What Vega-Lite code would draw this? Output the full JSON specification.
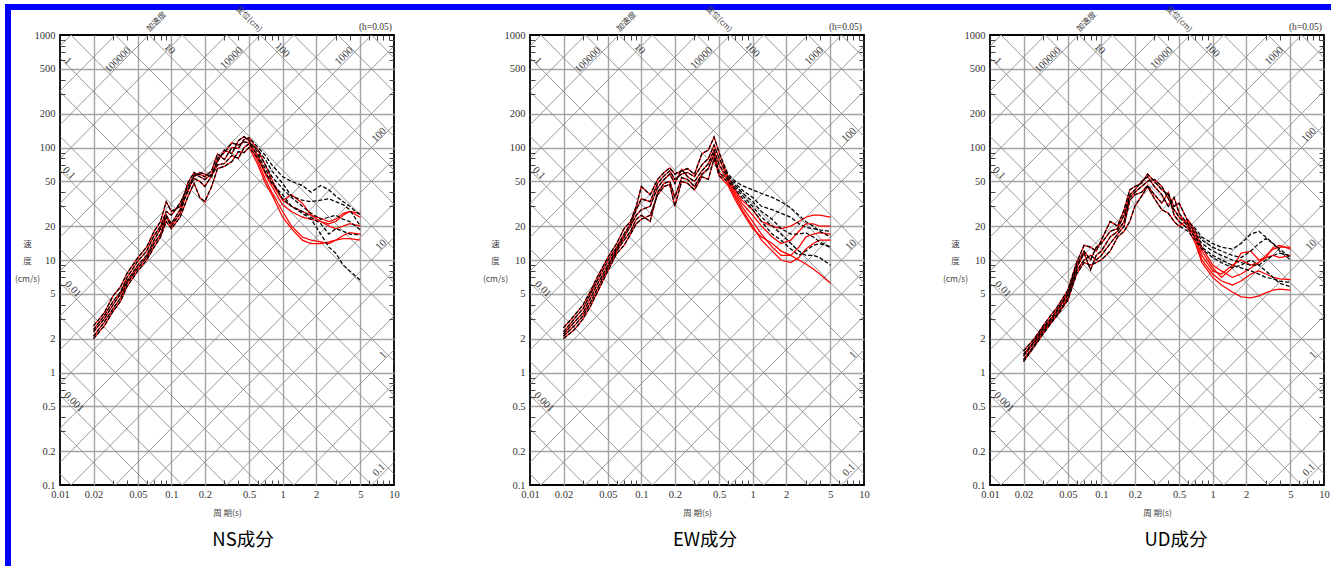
{
"$schema":"https://vega.github.io/schema/vega-lite/v6.json",
"background":"white",
"padding":{"left":5,"top":4,"right":5,"bottom":0},
"bounds":"flush",
"spacing":0,
"config":{"view":{"stroke":"#000000","strokeWidth":1.8}},
"datasets":{
"diag":[
{"id":"d0.0002","T":0.01,"v":0.12566},{"id":"d0.0002","T":10,"v":0.00012566},
{"id":"d0.0005","T":0.01,"v":0.31416},{"id":"d0.0005","T":10,"v":0.00031416},
{"id":"d0.001","T":0.01,"v":0.62832},{"id":"d0.001","T":10,"v":0.00062832},
{"id":"d0.002","T":0.01,"v":1.2566},{"id":"d0.002","T":10,"v":0.0012566},
{"id":"d0.005","T":0.01,"v":3.1416},{"id":"d0.005","T":10,"v":0.0031416},
{"id":"d0.01","T":0.01,"v":6.2832},{"id":"d0.01","T":10,"v":0.0062832},
{"id":"d0.02","T":0.01,"v":12.566},{"id":"d0.02","T":10,"v":0.012566},
{"id":"d0.05","T":0.01,"v":31.416},{"id":"d0.05","T":10,"v":0.031416},
{"id":"d0.1","T":0.01,"v":62.832},{"id":"d0.1","T":10,"v":0.062832},
{"id":"d0.2","T":0.01,"v":125.66},{"id":"d0.2","T":10,"v":0.12566},
{"id":"d0.5","T":0.01,"v":314.16},{"id":"d0.5","T":10,"v":0.31416},
{"id":"d1","T":0.01,"v":628.32},{"id":"d1","T":10,"v":0.62832},
{"id":"d2","T":0.01,"v":1256.6},{"id":"d2","T":10,"v":1.2566},
{"id":"d5","T":0.01,"v":3141.6},{"id":"d5","T":10,"v":3.1416},
{"id":"d10","T":0.01,"v":6283.2},{"id":"d10","T":10,"v":6.2832},
{"id":"d20","T":0.01,"v":12566},{"id":"d20","T":10,"v":12.566},
{"id":"d50","T":0.01,"v":31416},{"id":"d50","T":10,"v":31.416},
{"id":"d100","T":0.01,"v":62832},{"id":"d100","T":10,"v":62.832},
{"id":"d200","T":0.01,"v":125664},{"id":"d200","T":10,"v":125.66},
{"id":"d500","T":0.01,"v":314159},{"id":"d500","T":10,"v":314.16},
{"id":"d1000","T":0.01,"v":628318},{"id":"d1000","T":10,"v":628.32},
{"id":"a0.1","T":0.01,"v":0.00015915},{"id":"a0.1","T":10,"v":0.15915},
{"id":"a0.2","T":0.01,"v":0.0003183},{"id":"a0.2","T":10,"v":0.3183},
{"id":"a0.5","T":0.01,"v":0.00079577},{"id":"a0.5","T":10,"v":0.79577},
{"id":"a1","T":0.01,"v":0.0015915},{"id":"a1","T":10,"v":1.5915},
{"id":"a2","T":0.01,"v":0.003183},{"id":"a2","T":10,"v":3.1831},
{"id":"a5","T":0.01,"v":0.0079577},{"id":"a5","T":10,"v":7.9577},
{"id":"a10","T":0.01,"v":0.015915},{"id":"a10","T":10,"v":15.915},
{"id":"a20","T":0.01,"v":0.031831},{"id":"a20","T":10,"v":31.831},
{"id":"a50","T":0.01,"v":0.079577},{"id":"a50","T":10,"v":79.577},
{"id":"a100","T":0.01,"v":0.15915},{"id":"a100","T":10,"v":159.15},
{"id":"a200","T":0.01,"v":0.31831},{"id":"a200","T":10,"v":318.31},
{"id":"a500","T":0.01,"v":0.79577},{"id":"a500","T":10,"v":795.77},
{"id":"a1000","T":0.01,"v":1.5915},{"id":"a1000","T":10,"v":1591.5},
{"id":"a2000","T":0.01,"v":3.1831},{"id":"a2000","T":10,"v":3183.1},
{"id":"a5000","T":0.01,"v":7.9577},{"id":"a5000","T":10,"v":7957.7},
{"id":"a10000","T":0.01,"v":15.915},{"id":"a10000","T":10,"v":15915},
{"id":"a20000","T":0.01,"v":31.831},{"id":"a20000","T":10,"v":31831},
{"id":"a50000","T":0.01,"v":79.577},{"id":"a50000","T":10,"v":79577},
{"id":"a100000","T":0.01,"v":159.15},{"id":"a100000","T":10,"v":159155},
{"id":"a200000","T":0.01,"v":318.31},{"id":"a200000","T":10,"v":318310},
{"id":"a500000","T":0.01,"v":795.77},{"id":"a500000","T":10,"v":795775}
],
"dlab":[
{"T":0.01179,"v":587,"t":"1"},{"T":0.01205,"v":59.3,"t":"0.1"},{"T":0.01307,"v":5.52,"t":"0.01"},{"T":0.01335,"v":0.547,"t":"0.001"},{"T":0.0966,"v":751,"t":"10"},{"T":0.993,"v":735,"t":"100"}
],
"alab":[
{"T":0.0331,"v":599,"t":"100000"},{"T":0.347,"v":624,"t":"10000"},{"T":3.566,"v":651,"t":"1000"},{"T":7.34,"v":129,"t":"100"},{"T":7.65,"v":13.6,"t":"10"},{"T":7.97,"v":1.43,"t":"1"},{"T":7.34,"v":0.136,"t":"0.1"}
],
"hlab":[{"T":10,"v":1000,"t":"(h=0.05)"}],
"tacc":[{"T":0.0739,"v":1305,"t":"加速度"}],
"tdis":[{"T":0.631,"v":1085,"t":"変位(cm)"}],
"ns":[
{"s":1,"T":0.02,"r":2.6,"k":2.6},{"s":1,"T":0.025,"r":3.4,"k":3.4},{"s":1,"T":0.03,"r":4.8,"k":4.8},{"s":1,"T":0.035,"r":5.8,"k":5.8},{"s":1,"T":0.04,"r":7.6,"k":7.6},{"s":1,"T":0.05,"r":10.5,"k":10.5},{"s":1,"T":0.06,"r":13,"k":13},{"s":1,"T":0.07,"r":18,"k":18},{"s":1,"T":0.08,"r":22,"k":22},{"s":1,"T":0.09,"r":33,"k":33},{"s":1,"T":0.1,"r":27,"k":27},{"s":1,"T":0.12,"r":30,"k":30},{"s":1,"T":0.14,"r":40,"k":40},{"s":1,"T":0.16,"r":57,"k":57},{"s":1,"T":0.18,"r":58,"k":58},{"s":1,"T":0.2,"r":55,"k":55},{"s":1,"T":0.23,"r":62,"k":62},{"s":1,"T":0.26,"r":88,"k":88},{"s":1,"T":0.3,"r":78,"k":78},{"s":1,"T":0.35,"r":100,"k":100},{"s":1,"T":0.4,"r":98,"k":98},{"s":1,"T":0.45,"r":118,"k":118},{"s":1,"T":0.5,"r":122,"k":122},
{"s":1,"T":0.6,"r":95,"k":100},{"s":1,"T":0.7,"r":70,"k":85},{"s":1,"T":0.8,"r":52,"k":70},{"s":1,"T":1,"r":34,"k":55},{"s":1,"T":1.2,"r":38,"k":50},{"s":1,"T":1.5,"r":32,"k":46},{"s":1,"T":1.8,"r":25,"k":40},{"s":1,"T":2.2,"r":22,"k":46},{"s":1,"T":2.6,"r":21,"k":42},{"s":1,"T":3,"r":22,"k":37},{"s":1,"T":3.5,"r":25,"k":33},{"s":1,"T":4,"r":27,"k":30},{"s":1,"T":5,"r":26,"k":25},
{"s":2,"T":0.02,"r":2.4,"k":2.4},{"s":2,"T":0.025,"r":3.2,"k":3.2},{"s":2,"T":0.03,"r":4.3,"k":4.3},{"s":2,"T":0.035,"r":5.2,"k":5.2},{"s":2,"T":0.04,"r":7.0,"k":7.0},{"s":2,"T":0.05,"r":9.8,"k":9.8},{"s":2,"T":0.06,"r":12,"k":12},{"s":2,"T":0.07,"r":16.5,"k":16.5},{"s":2,"T":0.08,"r":20,"k":20},{"s":2,"T":0.09,"r":27,"k":27},{"s":2,"T":0.1,"r":25,"k":25},{"s":2,"T":0.12,"r":32,"k":32},{"s":2,"T":0.14,"r":45,"k":45},{"s":2,"T":0.16,"r":55,"k":55},{"s":2,"T":0.18,"r":60,"k":60},{"s":2,"T":0.2,"r":58,"k":58},{"s":2,"T":0.23,"r":55,"k":55},{"s":2,"T":0.26,"r":80,"k":80},{"s":2,"T":0.3,"r":90,"k":90},{"s":2,"T":0.35,"r":110,"k":110},{"s":2,"T":0.4,"r":105,"k":105},{"s":2,"T":0.45,"r":112,"k":112},{"s":2,"T":0.5,"r":110,"k":110},
{"s":2,"T":0.6,"r":85,"k":95},{"s":2,"T":0.7,"r":60,"k":78},{"s":2,"T":0.8,"r":48,"k":62},{"s":2,"T":1,"r":34,"k":48},{"s":2,"T":1.2,"r":30,"k":37},{"s":2,"T":1.5,"r":27,"k":34},{"s":2,"T":1.8,"r":25,"k":33},{"s":2,"T":2.2,"r":23.5,"k":34},{"s":2,"T":2.6,"r":22,"k":35},{"s":2,"T":3,"r":23,"k":33},{"s":2,"T":3.5,"r":26,"k":31},{"s":2,"T":4,"r":27,"k":28},{"s":2,"T":5,"r":24,"k":20},
{"s":3,"T":0.02,"r":2.3,"k":2.3},{"s":3,"T":0.025,"r":3.0,"k":3.0},{"s":3,"T":0.03,"r":4.0,"k":4.0},{"s":3,"T":0.035,"r":5.0,"k":5.0},{"s":3,"T":0.04,"r":6.5,"k":6.5},{"s":3,"T":0.05,"r":9.0,"k":9.0},{"s":3,"T":0.06,"r":11,"k":11},{"s":3,"T":0.07,"r":15,"k":15},{"s":3,"T":0.08,"r":19,"k":19},{"s":3,"T":0.09,"r":25,"k":25},{"s":3,"T":0.1,"r":21,"k":21},{"s":3,"T":0.12,"r":28,"k":28},{"s":3,"T":0.14,"r":48,"k":48},{"s":3,"T":0.16,"r":60,"k":60},{"s":3,"T":0.18,"r":55,"k":55},{"s":3,"T":0.2,"r":52,"k":52},{"s":3,"T":0.23,"r":58,"k":58},{"s":3,"T":0.26,"r":75,"k":75},{"s":3,"T":0.3,"r":95,"k":95},{"s":3,"T":0.35,"r":88,"k":88},{"s":3,"T":0.4,"r":115,"k":115},{"s":3,"T":0.45,"r":125,"k":125},{"s":3,"T":0.5,"r":115,"k":115},
{"s":3,"T":0.6,"r":80,"k":90},{"s":3,"T":0.7,"r":58,"k":70},{"s":3,"T":0.8,"r":45,"k":55},{"s":3,"T":1,"r":31,"k":43},{"s":3,"T":1.2,"r":27,"k":36},{"s":3,"T":1.5,"r":24,"k":30},{"s":3,"T":1.8,"r":23,"k":26},{"s":3,"T":2.2,"r":22,"k":23},{"s":3,"T":2.6,"r":20,"k":24},{"s":3,"T":3,"r":19,"k":25},{"s":3,"T":3.5,"r":20,"k":23},{"s":3,"T":4,"r":21,"k":22},{"s":3,"T":5,"r":20,"k":18.5},
{"s":4,"T":0.02,"r":2.1,"k":2.1},{"s":4,"T":0.025,"r":2.8,"k":2.8},{"s":4,"T":0.03,"r":3.7,"k":3.7},{"s":4,"T":0.035,"r":4.6,"k":4.6},{"s":4,"T":0.04,"r":6.2,"k":6.2},{"s":4,"T":0.05,"r":8.5,"k":8.5},{"s":4,"T":0.06,"r":10.5,"k":10.5},{"s":4,"T":0.07,"r":14,"k":14},{"s":4,"T":0.08,"r":17,"k":17},{"s":4,"T":0.09,"r":24,"k":24},{"s":4,"T":0.1,"r":20,"k":20},{"s":4,"T":0.12,"r":26,"k":26},{"s":4,"T":0.14,"r":42,"k":42},{"s":4,"T":0.16,"r":53,"k":53},{"s":4,"T":0.18,"r":50,"k":50},{"s":4,"T":0.2,"r":45,"k":45},{"s":4,"T":0.23,"r":56,"k":56},{"s":4,"T":0.26,"r":70,"k":70},{"s":4,"T":0.3,"r":72,"k":72},{"s":4,"T":0.35,"r":85,"k":85},{"s":4,"T":0.4,"r":80,"k":80},{"s":4,"T":0.45,"r":100,"k":100},{"s":4,"T":0.5,"r":108,"k":108},
{"s":4,"T":0.6,"r":75,"k":85},{"s":4,"T":0.7,"r":52,"k":65},{"s":4,"T":0.8,"r":40,"k":50},{"s":4,"T":1,"r":27,"k":35},{"s":4,"T":1.2,"r":20,"k":30},{"s":4,"T":1.5,"r":16,"k":27},{"s":4,"T":1.8,"r":15,"k":24},{"s":4,"T":2.2,"r":14.5,"k":21},{"s":4,"T":2.6,"r":14,"k":17},{"s":4,"T":3,"r":15,"k":19},{"s":4,"T":3.5,"r":16.5,"k":18},{"s":4,"T":4,"r":17.5,"k":17},{"s":4,"T":5,"r":17,"k":16.7},
{"s":5,"T":0.02,"r":2.0,"k":2.0},{"s":5,"T":0.025,"r":2.6,"k":2.6},{"s":5,"T":0.03,"r":3.5,"k":3.5},{"s":5,"T":0.035,"r":4.3,"k":4.3},{"s":5,"T":0.04,"r":5.8,"k":5.8},{"s":5,"T":0.05,"r":8.0,"k":8.0},{"s":5,"T":0.06,"r":10,"k":10},{"s":5,"T":0.07,"r":13,"k":13},{"s":5,"T":0.08,"r":16,"k":16},{"s":5,"T":0.09,"r":22,"k":22},{"s":5,"T":0.1,"r":19,"k":19},{"s":5,"T":0.12,"r":24,"k":24},{"s":5,"T":0.14,"r":36,"k":36},{"s":5,"T":0.16,"r":48,"k":48},{"s":5,"T":0.18,"r":36,"k":36},{"s":5,"T":0.2,"r":33,"k":33},{"s":5,"T":0.23,"r":45,"k":45},{"s":5,"T":0.26,"r":65,"k":65},{"s":5,"T":0.3,"r":68,"k":68},{"s":5,"T":0.35,"r":75,"k":75},{"s":5,"T":0.4,"r":92,"k":92},{"s":5,"T":0.45,"r":90,"k":90},{"s":5,"T":0.5,"r":100,"k":100},
{"s":5,"T":0.6,"r":70,"k":80},{"s":5,"T":0.7,"r":48,"k":60},{"s":5,"T":0.8,"r":38,"k":48},{"s":5,"T":1,"r":24,"k":38},{"s":5,"T":1.2,"r":19,"k":30},{"s":5,"T":1.5,"r":15,"k":26},{"s":5,"T":1.8,"r":14,"k":23},{"s":5,"T":2.2,"r":14,"k":17},{"s":5,"T":2.6,"r":14.5,"k":13},{"s":5,"T":3,"r":15,"k":11.5},{"s":5,"T":3.5,"r":15.5,"k":9},{"s":5,"T":4,"r":15.5,"k":8},{"s":5,"T":5,"r":15,"k":6.6}
],
"ew":[
{"s":1,"T":0.02,"r":2.5,"k":2.5},{"s":1,"T":0.025,"r":3.2,"k":3.2},{"s":1,"T":0.03,"r":4.0,"k":4.0},{"s":1,"T":0.035,"r":5.3,"k":5.3},{"s":1,"T":0.04,"r":7.0,"k":7.0},{"s":1,"T":0.05,"r":10.5,"k":10.5},{"s":1,"T":0.06,"r":14,"k":14},{"s":1,"T":0.07,"r":19,"k":19},{"s":1,"T":0.08,"r":22,"k":22},{"s":1,"T":0.09,"r":30,"k":30},{"s":1,"T":0.1,"r":45,"k":45},{"s":1,"T":0.12,"r":38,"k":38},{"s":1,"T":0.14,"r":52,"k":52},{"s":1,"T":0.16,"r":60,"k":60},{"s":1,"T":0.18,"r":66,"k":66},{"s":1,"T":0.2,"r":58,"k":58},{"s":1,"T":0.23,"r":62,"k":62},{"s":1,"T":0.26,"r":65,"k":65},{"s":1,"T":0.3,"r":58,"k":58},{"s":1,"T":0.35,"r":88,"k":88},{"s":1,"T":0.4,"r":95,"k":95},{"s":1,"T":0.45,"r":124,"k":124},{"s":1,"T":0.5,"r":90,"k":90},
{"s":1,"T":0.6,"r":55,"k":58},{"s":1,"T":0.7,"r":42,"k":50},{"s":1,"T":0.8,"r":34,"k":46},{"s":1,"T":1,"r":28,"k":42},{"s":1,"T":1.2,"r":22,"k":39},{"s":1,"T":1.5,"r":20,"k":36},{"s":1,"T":1.8,"r":19,"k":33},{"s":1,"T":2.2,"r":20,"k":29},{"s":1,"T":2.6,"r":22,"k":25},{"s":1,"T":3,"r":24,"k":22},{"s":1,"T":3.5,"r":25,"k":20},{"s":1,"T":4,"r":25,"k":18},{"s":1,"T":5,"r":24,"k":16},
{"s":2,"T":0.02,"r":2.3,"k":2.3},{"s":2,"T":0.025,"r":3.0,"k":3.0},{"s":2,"T":0.03,"r":3.7,"k":3.7},{"s":2,"T":0.035,"r":5.0,"k":5.0},{"s":2,"T":0.04,"r":6.5,"k":6.5},{"s":2,"T":0.05,"r":9.8,"k":9.8},{"s":2,"T":0.06,"r":13,"k":13},{"s":2,"T":0.07,"r":17,"k":17},{"s":2,"T":0.08,"r":21,"k":21},{"s":2,"T":0.09,"r":28,"k":28},{"s":2,"T":0.1,"r":35,"k":35},{"s":2,"T":0.12,"r":33,"k":33},{"s":2,"T":0.14,"r":48,"k":48},{"s":2,"T":0.16,"r":56,"k":56},{"s":2,"T":0.18,"r":62,"k":62},{"s":2,"T":0.2,"r":52,"k":52},{"s":2,"T":0.23,"r":58,"k":58},{"s":2,"T":0.26,"r":60,"k":60},{"s":2,"T":0.3,"r":55,"k":55},{"s":2,"T":0.35,"r":70,"k":70},{"s":2,"T":0.4,"r":80,"k":80},{"s":2,"T":0.45,"r":105,"k":105},{"s":2,"T":0.5,"r":80,"k":80},
{"s":2,"T":0.6,"r":52,"k":56},{"s":2,"T":0.7,"r":40,"k":48},{"s":2,"T":0.8,"r":32,"k":42},{"s":2,"T":1,"r":25,"k":36},{"s":2,"T":1.2,"r":20,"k":30},{"s":2,"T":1.5,"r":16,"k":28},{"s":2,"T":1.8,"r":14,"k":26},{"s":2,"T":2.2,"r":15,"k":24},{"s":2,"T":2.6,"r":18,"k":21},{"s":2,"T":3,"r":21,"k":19.5},{"s":2,"T":3.5,"r":21,"k":19},{"s":2,"T":4,"r":20,"k":18.5},{"s":2,"T":5,"r":20,"k":18},
{"s":3,"T":0.02,"r":2.2,"k":2.2},{"s":3,"T":0.025,"r":2.8,"k":2.8},{"s":3,"T":0.03,"r":3.4,"k":3.4},{"s":3,"T":0.035,"r":4.6,"k":4.6},{"s":3,"T":0.04,"r":6.0,"k":6.0},{"s":3,"T":0.05,"r":9.0,"k":9.0},{"s":3,"T":0.06,"r":12.5,"k":12.5},{"s":3,"T":0.07,"r":16,"k":16},{"s":3,"T":0.08,"r":20,"k":20},{"s":3,"T":0.09,"r":25,"k":25},{"s":3,"T":0.1,"r":28,"k":28},{"s":3,"T":0.12,"r":30,"k":30},{"s":3,"T":0.14,"r":44,"k":44},{"s":3,"T":0.16,"r":52,"k":52},{"s":3,"T":0.18,"r":58,"k":58},{"s":3,"T":0.2,"r":48,"k":48},{"s":3,"T":0.23,"r":64,"k":64},{"s":3,"T":0.26,"r":55,"k":55},{"s":3,"T":0.3,"r":50,"k":50},{"s":3,"T":0.35,"r":62,"k":62},{"s":3,"T":0.4,"r":72,"k":72},{"s":3,"T":0.45,"r":95,"k":95},{"s":3,"T":0.5,"r":70,"k":70},
{"s":3,"T":0.6,"r":50,"k":54},{"s":3,"T":0.7,"r":38,"k":46},{"s":3,"T":0.8,"r":30,"k":40},{"s":3,"T":1,"r":22,"k":33},{"s":3,"T":1.2,"r":17,"k":27},{"s":3,"T":1.5,"r":13,"k":23},{"s":3,"T":1.8,"r":11,"k":19},{"s":3,"T":2.2,"r":11,"k":17},{"s":3,"T":2.6,"r":13,"k":17},{"s":3,"T":3,"r":16,"k":17.5},{"s":3,"T":3.5,"r":17,"k":16},{"s":3,"T":4,"r":17.5,"k":14.5},{"s":3,"T":5,"r":17,"k":13},
{"s":4,"T":0.02,"r":2.1,"k":2.1},{"s":4,"T":0.025,"r":2.6,"k":2.6},{"s":4,"T":0.03,"r":3.2,"k":3.2},{"s":4,"T":0.035,"r":4.2,"k":4.2},{"s":4,"T":0.04,"r":5.5,"k":5.5},{"s":4,"T":0.05,"r":8.5,"k":8.5},{"s":4,"T":0.06,"r":12,"k":12},{"s":4,"T":0.07,"r":15,"k":15},{"s":4,"T":0.08,"r":18,"k":18},{"s":4,"T":0.09,"r":23,"k":23},{"s":4,"T":0.1,"r":25,"k":25},{"s":4,"T":0.12,"r":22,"k":22},{"s":4,"T":0.14,"r":40,"k":40},{"s":4,"T":0.16,"r":48,"k":48},{"s":4,"T":0.18,"r":50,"k":50},{"s":4,"T":0.2,"r":36,"k":36},{"s":4,"T":0.23,"r":54,"k":54},{"s":4,"T":0.26,"r":52,"k":52},{"s":4,"T":0.3,"r":45,"k":45},{"s":4,"T":0.35,"r":58,"k":58},{"s":4,"T":0.4,"r":65,"k":65},{"s":4,"T":0.45,"r":88,"k":88},{"s":4,"T":0.5,"r":60,"k":60},
{"s":4,"T":0.6,"r":48,"k":52},{"s":4,"T":0.7,"r":36,"k":44},{"s":4,"T":0.8,"r":28,"k":38},{"s":4,"T":1,"r":20,"k":30},{"s":4,"T":1.2,"r":15,"k":24},{"s":4,"T":1.5,"r":12,"k":20},{"s":4,"T":1.8,"r":10,"k":17},{"s":4,"T":2.2,"r":9.5,"k":14},{"s":4,"T":2.6,"r":10.5,"k":12},{"s":4,"T":3,"r":12.5,"k":11},{"s":4,"T":3.5,"r":14,"k":11},{"s":4,"T":4,"r":15,"k":10.5},{"s":4,"T":5,"r":15,"k":9},
{"s":5,"T":0.02,"r":2.0,"k":2.0},{"s":5,"T":0.025,"r":2.4,"k":2.4},{"s":5,"T":0.03,"r":3.0,"k":3.0},{"s":5,"T":0.035,"r":3.9,"k":3.9},{"s":5,"T":0.04,"r":5.1,"k":5.1},{"s":5,"T":0.05,"r":8.0,"k":8.0},{"s":5,"T":0.06,"r":11.4,"k":11.4},{"s":5,"T":0.07,"r":13.5,"k":13.5},{"s":5,"T":0.08,"r":17,"k":17},{"s":5,"T":0.09,"r":21,"k":21},{"s":5,"T":0.1,"r":23,"k":23},{"s":5,"T":0.12,"r":25,"k":25},{"s":5,"T":0.14,"r":38,"k":38},{"s":5,"T":0.16,"r":45,"k":45},{"s":5,"T":0.18,"r":47,"k":47},{"s":5,"T":0.2,"r":30,"k":30},{"s":5,"T":0.23,"r":50,"k":50},{"s":5,"T":0.26,"r":48,"k":48},{"s":5,"T":0.3,"r":42,"k":42},{"s":5,"T":0.35,"r":55,"k":55},{"s":5,"T":0.4,"r":52,"k":52},{"s":5,"T":0.45,"r":80,"k":80},{"s":5,"T":0.5,"r":56,"k":56},
{"s":5,"T":0.6,"r":46,"k":50},{"s":5,"T":0.7,"r":34,"k":42},{"s":5,"T":0.8,"r":27,"k":36},{"s":5,"T":1,"r":19,"k":28},{"s":5,"T":1.2,"r":16,"k":22},{"s":5,"T":1.5,"r":14,"k":17},{"s":5,"T":1.8,"r":12,"k":15},{"s":5,"T":2.2,"r":11,"k":12.5},{"s":5,"T":2.6,"r":10,"k":11},{"s":5,"T":3,"r":9.2,"k":12},{"s":5,"T":3.5,"r":8.3,"k":13.5},{"s":5,"T":4,"r":7.5,"k":14},{"s":5,"T":5,"r":6.2,"k":13}
],
"ud":[
{"s":1,"T":0.02,"r":1.55,"k":1.55},{"s":1,"T":0.025,"r":2.0,"k":2.0},{"s":1,"T":0.03,"r":2.6,"k":2.6},{"s":1,"T":0.035,"r":3.2,"k":3.2},{"s":1,"T":0.04,"r":3.8,"k":3.8},{"s":1,"T":0.05,"r":5.4,"k":5.4},{"s":1,"T":0.06,"r":9.5,"k":9.5},{"s":1,"T":0.07,"r":13.5,"k":13.5},{"s":1,"T":0.08,"r":13,"k":13},{"s":1,"T":0.09,"r":12,"k":12},{"s":1,"T":0.1,"r":15,"k":15},{"s":1,"T":0.12,"r":22,"k":22},{"s":1,"T":0.14,"r":20,"k":20},{"s":1,"T":0.16,"r":28,"k":28},{"s":1,"T":0.18,"r":42,"k":42},{"s":1,"T":0.2,"r":45,"k":45},{"s":1,"T":0.23,"r":48,"k":48},{"s":1,"T":0.26,"r":58,"k":58},{"s":1,"T":0.3,"r":50,"k":50},{"s":1,"T":0.35,"r":42,"k":42},{"s":1,"T":0.4,"r":38,"k":38},{"s":1,"T":0.45,"r":30,"k":30},{"s":1,"T":0.5,"r":32,"k":32},
{"s":1,"T":0.6,"r":22,"k":22},{"s":1,"T":0.7,"r":17,"k":19},{"s":1,"T":0.8,"r":12,"k":16},{"s":1,"T":1,"r":8.5,"k":14},{"s":1,"T":1.2,"r":7.0,"k":13},{"s":1,"T":1.5,"r":8.5,"k":12.5},{"s":1,"T":1.8,"r":11.5,"k":14},{"s":1,"T":2.2,"r":12,"k":17},{"s":1,"T":2.6,"r":10,"k":18},{"s":1,"T":3,"r":10.5,"k":16},{"s":1,"T":3.5,"r":13,"k":14},{"s":1,"T":4,"r":13.5,"k":12.5},{"s":1,"T":5,"r":12.5,"k":10.5},
{"s":2,"T":0.02,"r":1.45,"k":1.45},{"s":2,"T":0.025,"r":1.9,"k":1.9},{"s":2,"T":0.03,"r":2.5,"k":2.5},{"s":2,"T":0.035,"r":3.0,"k":3.0},{"s":2,"T":0.04,"r":3.6,"k":3.6},{"s":2,"T":0.05,"r":5.1,"k":5.1},{"s":2,"T":0.06,"r":9,"k":9},{"s":2,"T":0.07,"r":12,"k":12},{"s":2,"T":0.08,"r":10,"k":10},{"s":2,"T":0.09,"r":13,"k":13},{"s":2,"T":0.1,"r":14,"k":14},{"s":2,"T":0.12,"r":18,"k":18},{"s":2,"T":0.14,"r":19,"k":19},{"s":2,"T":0.16,"r":25,"k":25},{"s":2,"T":0.18,"r":38,"k":38},{"s":2,"T":0.2,"r":42,"k":42},{"s":2,"T":0.23,"r":50,"k":50},{"s":2,"T":0.26,"r":55,"k":55},{"s":2,"T":0.3,"r":45,"k":45},{"s":2,"T":0.35,"r":38,"k":38},{"s":2,"T":0.4,"r":30,"k":30},{"s":2,"T":0.45,"r":36,"k":36},{"s":2,"T":0.5,"r":26,"k":26},
{"s":2,"T":0.6,"r":20,"k":21},{"s":2,"T":0.7,"r":16,"k":18},{"s":2,"T":0.8,"r":11,"k":15},{"s":2,"T":1,"r":8,"k":13},{"s":2,"T":1.2,"r":7.5,"k":12},{"s":2,"T":1.5,"r":9,"k":11},{"s":2,"T":1.8,"r":10,"k":10.5},{"s":2,"T":2.2,"r":9,"k":12},{"s":2,"T":2.6,"r":9.5,"k":14},{"s":2,"T":3,"r":10.5,"k":15.5},{"s":2,"T":3.5,"r":11,"k":14},{"s":2,"T":4,"r":10.5,"k":12},{"s":2,"T":5,"r":11,"k":10},
{"s":3,"T":0.02,"r":1.4,"k":1.4},{"s":3,"T":0.025,"r":1.85,"k":1.85},{"s":3,"T":0.03,"r":2.4,"k":2.4},{"s":3,"T":0.035,"r":2.9,"k":2.9},{"s":3,"T":0.04,"r":3.5,"k":3.5},{"s":3,"T":0.05,"r":4.9,"k":4.9},{"s":3,"T":0.06,"r":8.5,"k":8.5},{"s":3,"T":0.07,"r":11.5,"k":11.5},{"s":3,"T":0.08,"r":8.2,"k":8.2},{"s":3,"T":0.09,"r":11,"k":11},{"s":3,"T":0.1,"r":12,"k":12},{"s":3,"T":0.12,"r":16,"k":16},{"s":3,"T":0.14,"r":18,"k":18},{"s":3,"T":0.16,"r":22,"k":22},{"s":3,"T":0.18,"r":36,"k":36},{"s":3,"T":0.2,"r":40,"k":40},{"s":3,"T":0.23,"r":45,"k":45},{"s":3,"T":0.26,"r":50,"k":50},{"s":3,"T":0.3,"r":52,"k":52},{"s":3,"T":0.35,"r":45,"k":45},{"s":3,"T":0.4,"r":35,"k":35},{"s":3,"T":0.45,"r":28,"k":28},{"s":3,"T":0.5,"r":24,"k":24},
{"s":3,"T":0.6,"r":21,"k":20},{"s":3,"T":0.7,"r":15,"k":17},{"s":3,"T":0.8,"r":10,"k":14},{"s":3,"T":1,"r":7.5,"k":12},{"s":3,"T":1.2,"r":6.5,"k":11},{"s":3,"T":1.5,"r":6,"k":10},{"s":3,"T":1.8,"r":6.5,"k":9.5},{"s":3,"T":2.2,"r":7.5,"k":9},{"s":3,"T":2.6,"r":8,"k":9},{"s":3,"T":3,"r":7.5,"k":10},{"s":3,"T":3.5,"r":7,"k":11},{"s":3,"T":4,"r":6.8,"k":11.5},{"s":3,"T":5,"r":6.7,"k":11},
{"s":4,"T":0.02,"r":1.3,"k":1.3},{"s":4,"T":0.025,"r":1.75,"k":1.75},{"s":4,"T":0.03,"r":2.3,"k":2.3},{"s":4,"T":0.035,"r":2.8,"k":2.8},{"s":4,"T":0.04,"r":3.3,"k":3.3},{"s":4,"T":0.05,"r":4.6,"k":4.6},{"s":4,"T":0.06,"r":8,"k":8},{"s":4,"T":0.07,"r":10,"k":10},{"s":4,"T":0.08,"r":11,"k":11},{"s":4,"T":0.09,"r":10,"k":10},{"s":4,"T":0.1,"r":11,"k":11},{"s":4,"T":0.12,"r":14,"k":14},{"s":4,"T":0.14,"r":17,"k":17},{"s":4,"T":0.16,"r":20,"k":20},{"s":4,"T":0.18,"r":34,"k":34},{"s":4,"T":0.2,"r":38,"k":38},{"s":4,"T":0.23,"r":40,"k":40},{"s":4,"T":0.26,"r":46,"k":46},{"s":4,"T":0.3,"r":38,"k":38},{"s":4,"T":0.35,"r":32,"k":32},{"s":4,"T":0.4,"r":40,"k":40},{"s":4,"T":0.45,"r":25,"k":25},{"s":4,"T":0.5,"r":22,"k":22},
{"s":4,"T":0.6,"r":19,"k":19},{"s":4,"T":0.7,"r":14,"k":16},{"s":4,"T":0.8,"r":9.5,"k":13},{"s":4,"T":1,"r":7,"k":11},{"s":4,"T":1.2,"r":6,"k":10},{"s":4,"T":1.5,"r":5.2,"k":9},{"s":4,"T":1.8,"r":4.7,"k":8.5},{"s":4,"T":2.2,"r":4.6,"k":8},{"s":4,"T":2.6,"r":4.8,"k":7.5},{"s":4,"T":3,"r":5.1,"k":7},{"s":4,"T":3.5,"r":5.4,"k":6.8},{"s":4,"T":4,"r":5.5,"k":6.5},{"s":4,"T":5,"r":5.4,"k":6.3},
{"s":5,"T":0.02,"r":1.25,"k":1.25},{"s":5,"T":0.025,"r":1.7,"k":1.7},{"s":5,"T":0.03,"r":2.2,"k":2.2},{"s":5,"T":0.035,"r":2.7,"k":2.7},{"s":5,"T":0.04,"r":3.2,"k":3.2},{"s":5,"T":0.05,"r":4.4,"k":4.4},{"s":5,"T":0.06,"r":7.5,"k":7.5},{"s":5,"T":0.07,"r":9.5,"k":9.5},{"s":5,"T":0.08,"r":9,"k":9},{"s":5,"T":0.09,"r":9.5,"k":9.5},{"s":5,"T":0.1,"r":10,"k":10},{"s":5,"T":0.12,"r":12,"k":12},{"s":5,"T":0.14,"r":16,"k":16},{"s":5,"T":0.16,"r":18,"k":18},{"s":5,"T":0.18,"r":22,"k":22},{"s":5,"T":0.2,"r":30,"k":30},{"s":5,"T":0.23,"r":37,"k":37},{"s":5,"T":0.26,"r":45,"k":45},{"s":5,"T":0.3,"r":35,"k":35},{"s":5,"T":0.35,"r":28,"k":28},{"s":5,"T":0.4,"r":26,"k":26},{"s":5,"T":0.45,"r":22,"k":22},{"s":5,"T":0.5,"r":20,"k":20},
{"s":5,"T":0.6,"r":23,"k":18},{"s":5,"T":0.7,"r":18,"k":15},{"s":5,"T":0.8,"r":13,"k":12.5},{"s":5,"T":1,"r":9,"k":10.5},{"s":5,"T":1.2,"r":8,"k":9.5},{"s":5,"T":1.5,"r":7,"k":8.5},{"s":5,"T":1.8,"r":7.5,"k":9},{"s":5,"T":2.2,"r":8.5,"k":10},{"s":5,"T":2.6,"r":9.5,"k":9},{"s":5,"T":3,"r":11,"k":8},{"s":5,"T":3.5,"r":12.5,"k":7},{"s":5,"T":4,"r":13,"k":6.2},{"s":5,"T":5,"r":13,"k":5.8}
]
},
"hconcat":[
{"width":6,"height":562,"view":{"fill":"#0000fe","stroke":null},"data":{"values":[{"a":1}]},"mark":{"type":"point","opacity":0},"encoding":{}},
{"bounds":"flush","spacing":25,"vconcat":[
{"width":1320,"height":6,"view":{"fill":"#0000fe","stroke":null},"data":{"values":[{"a":1}]},"mark":{"type":"point","opacity":0},"encoding":{}},
{"bounds":"flush","spacing":519,"hconcat":[
{"bounds":"flush","spacing":48,"hconcat":[
{"width":1,"height":1,"view":{"fill":null,"stroke":null},"data":{"values":[{"a":1}]},"mark":{"type":"point","opacity":0},"encoding":{}},
{"width":334,"height":450,
"title":{"text":"NS成分","orient":"bottom","offset":14,"dx":16,"font":"Noto Sans CJK JP","fontSize":18.5,"fontWeight":"normal","color":"#000000"},
"layer":[
{"data":{"name":"diag"},"mark":{"type":"line","clip":true,"color":"#8c8c8c","strokeWidth":0.9},
"encoding":{"x":{"field":"T","type":"quantitative","scale":{"type":"log","domain":[0.01,10]},"axis":{"orient":"bottom","values":[0.01,0.02,0.05,0.1,0.2,0.5,1,2,5,10],"format":"~g","grid":false,"ticks":false,"domain":false,"labelFont":"Liberation Serif","labelFontSize":10.5,"labelColor":"#333333","labelPadding":4,"labelFlush":false,"labelOverlap":false,"title":"周 期(s)","titleFont":"Noto Sans CJK JP","titleFontSize":8.5,"titleFontWeight":"normal","titleColor":"#444444","titlePadding":9,"zindex":1}},
"y":{"field":"v","type":"quantitative","scale":{"type":"log","domain":[0.1,1000]},"axis":{"orient":"left","values":[0.1,0.2,0.5,1,2,5,10,20,50,100,200,500,1000],"format":"~g","grid":false,"ticks":false,"domain":false,"labelFont":"Liberation Serif","labelFontSize":10.5,"labelColor":"#333333","labelPadding":5,"labelFlush":false,"labelOverlap":false,"title":["速","度","(cm/s)"],"titleFont":"Noto Sans CJK JP","titleFontSize":8.5,"titleFontWeight":"normal","titleColor":"#444444","titleAngle":0,"titleAlign":"center","titleBaseline":"top","titleX":-33,"titleY":204,"titleLineHeight":17.5,"zindex":1}},
"detail":{"field":"id","type":"nominal"}}},
{"data":{"name":"dlab"},"mark":{"type":"text","angle":45,"font":"Liberation Serif","fontSize":10.5,"color":"#333333"},
"encoding":{"x":{"field":"T","type":"quantitative","scale":{"type":"log","domain":[0.01,10]},"axis":{"orient":"bottom","values":[0.02,0.05,0.1,0.2,0.5,1,2,5],"grid":true,"gridColor":"#a3a3a3","gridWidth":1.4,"labels":false,"ticks":false,"domain":false,"title":null,"zindex":0}},
"y":{"field":"v","type":"quantitative","scale":{"type":"log","domain":[0.1,1000]},"axis":{"orient":"left","values":[0.2,0.5,1,2,5,10,20,50,100,200,500],"grid":true,"gridColor":"#a3a3a3","gridWidth":1.4,"labels":false,"ticks":false,"domain":false,"title":null,"zindex":0}},
"text":{"field":"t"}}},
{"data":{"name":"alab"},"mark":{"type":"text","angle":-45,"font":"Liberation Serif","fontSize":10.5,"color":"#333333"},
"encoding":{"x":{"field":"T","type":"quantitative","scale":{"type":"log","domain":[0.01,10]},"axis":null},"y":{"field":"v","type":"quantitative","scale":{"type":"log","domain":[0.1,1000]},"axis":null},"text":{"field":"t"}}},
{"data":{"name":"hlab"},"mark":{"type":"text","align":"right","baseline":"bottom","dx":-2,"dy":-3,"font":"Liberation Serif","fontSize":9.5,"color":"#333333"},
"encoding":{"x":{"field":"T","type":"quantitative","scale":{"type":"log","domain":[0.01,10]},"axis":null},"y":{"field":"v","type":"quantitative","scale":{"type":"log","domain":[0.1,1000]},"axis":null},"text":{"field":"t"}}},
{"data":{"name":"tacc"},"mark":{"type":"text","angle":-45,"font":"Noto Sans CJK JP","fontSize":8,"color":"#444444"},
"encoding":{"x":{"field":"T","type":"quantitative","scale":{"type":"log","domain":[0.01,10]},"axis":null},"y":{"field":"v","type":"quantitative","scale":{"type":"log","domain":[0.1,1000]},"axis":null},"text":{"field":"t"}}},
{"data":{"name":"tdis"},"mark":{"type":"text","angle":45,"align":"right","font":"Noto Sans CJK JP","fontSize":8,"color":"#444444"},
"encoding":{"x":{"field":"T","type":"quantitative","scale":{"type":"log","domain":[0.01,10]},"axis":null},"y":{"field":"v","type":"quantitative","scale":{"type":"log","domain":[0.1,1000]},"axis":null},"text":{"field":"t"}}},
{"data":{"name":"ns"},"mark":{"type":"line","clip":true,"color":"#ff0000","strokeWidth":1.25},
"encoding":{"x":{"field":"T","type":"quantitative","scale":{"type":"log","domain":[0.01,10]},"axis":{"orient":"bottom","values":[0.03,0.04,0.06,0.07,0.08,0.09,0.3,0.4,0.6,0.7,0.8,0.9,3,4,6,7,8,9],"grid":false,"labels":false,"ticks":true,"tickSize":-5,"tickColor":"#444444","tickWidth":1,"domain":false,"title":null,"zindex":1}},
"y":{"field":"r","type":"quantitative","scale":{"type":"log","domain":[0.1,1000]},"axis":{"orient":"left","values":[0.3,0.4,0.6,0.7,0.8,0.9,3,4,6,7,8,9,30,40,60,70,80,90,300,400,600,700,800,900],"grid":false,"labels":false,"ticks":true,"tickSize":-5,"tickColor":"#444444","tickWidth":1,"domain":false,"title":null,"zindex":1}},
"detail":{"field":"s","type":"nominal"}}},
{"data":{"name":"ns"},"mark":{"type":"line","clip":true,"color":"#000000","strokeWidth":1.25,"strokeDash":[4,2]},
"encoding":{"x":{"field":"T","type":"quantitative","scale":{"type":"log","domain":[0.01,10]},"axis":{"orient":"top","values":[0.03,0.04,0.06,0.07,0.08,0.09,0.3,0.4,0.6,0.7,0.8,0.9,3,4,6,7,8,9],"grid":false,"labels":false,"ticks":true,"tickSize":-5,"tickColor":"#444444","tickWidth":1,"domain":false,"title":null,"zindex":1}},
"y":{"field":"k","type":"quantitative","scale":{"type":"log","domain":[0.1,1000]},"axis":{"orient":"right","values":[0.3,0.4,0.6,0.7,0.8,0.9,3,4,6,7,8,9,30,40,60,70,80,90,300,400,600,700,800,900],"grid":false,"labels":false,"ticks":true,"tickSize":-5,"tickColor":"#444444","tickWidth":1,"domain":false,"title":null,"zindex":1}},
"detail":{"field":"s","type":"nominal"}}}
],
"resolve":{"axis":{"x":"independent","y":"independent"}}}
]},
{"bounds":"flush","spacing":126,"hconcat":[
{"width":334,"height":450,
"title":{"text":"EW成分","orient":"bottom","offset":14,"dx":8,"font":"Noto Sans CJK JP","fontSize":18.5,"fontWeight":"normal","color":"#000000"},
"layer":[
{"data":{"name":"diag"},"mark":{"type":"line","clip":true,"color":"#8c8c8c","strokeWidth":0.9},
"encoding":{"x":{"field":"T","type":"quantitative","scale":{"type":"log","domain":[0.01,10]},"axis":{"orient":"bottom","values":[0.01,0.02,0.05,0.1,0.2,0.5,1,2,5,10],"format":"~g","grid":false,"ticks":false,"domain":false,"labelFont":"Liberation Serif","labelFontSize":10.5,"labelColor":"#333333","labelPadding":4,"labelFlush":false,"labelOverlap":false,"title":"周 期(s)","titleFont":"Noto Sans CJK JP","titleFontSize":8.5,"titleFontWeight":"normal","titleColor":"#444444","titlePadding":9,"zindex":1}},
"y":{"field":"v","type":"quantitative","scale":{"type":"log","domain":[0.1,1000]},"axis":{"orient":"left","values":[0.1,0.2,0.5,1,2,5,10,20,50,100,200,500,1000],"format":"~g","grid":false,"ticks":false,"domain":false,"labelFont":"Liberation Serif","labelFontSize":10.5,"labelColor":"#333333","labelPadding":5,"labelFlush":false,"labelOverlap":false,"title":["速","度","(cm/s)"],"titleFont":"Noto Sans CJK JP","titleFontSize":8.5,"titleFontWeight":"normal","titleColor":"#444444","titleAngle":0,"titleAlign":"center","titleBaseline":"top","titleX":-35,"titleY":204,"titleLineHeight":17.5,"zindex":1}},
"detail":{"field":"id","type":"nominal"}}},
{"data":{"name":"dlab"},"mark":{"type":"text","angle":45,"font":"Liberation Serif","fontSize":10.5,"color":"#333333"},
"encoding":{"x":{"field":"T","type":"quantitative","scale":{"type":"log","domain":[0.01,10]},"axis":{"orient":"bottom","values":[0.02,0.05,0.1,0.2,0.5,1,2,5],"grid":true,"gridColor":"#a3a3a3","gridWidth":1.4,"labels":false,"ticks":false,"domain":false,"title":null,"zindex":0}},
"y":{"field":"v","type":"quantitative","scale":{"type":"log","domain":[0.1,1000]},"axis":{"orient":"left","values":[0.2,0.5,1,2,5,10,20,50,100,200,500],"grid":true,"gridColor":"#a3a3a3","gridWidth":1.4,"labels":false,"ticks":false,"domain":false,"title":null,"zindex":0}},
"text":{"field":"t"}}},
{"data":{"name":"alab"},"mark":{"type":"text","angle":-45,"font":"Liberation Serif","fontSize":10.5,"color":"#333333"},
"encoding":{"x":{"field":"T","type":"quantitative","scale":{"type":"log","domain":[0.01,10]},"axis":null},"y":{"field":"v","type":"quantitative","scale":{"type":"log","domain":[0.1,1000]},"axis":null},"text":{"field":"t"}}},
{"data":{"name":"hlab"},"mark":{"type":"text","align":"right","baseline":"bottom","dx":-2,"dy":-3,"font":"Liberation Serif","fontSize":9.5,"color":"#333333"},
"encoding":{"x":{"field":"T","type":"quantitative","scale":{"type":"log","domain":[0.01,10]},"axis":null},"y":{"field":"v","type":"quantitative","scale":{"type":"log","domain":[0.1,1000]},"axis":null},"text":{"field":"t"}}},
{"data":{"name":"tacc"},"mark":{"type":"text","angle":-45,"font":"Noto Sans CJK JP","fontSize":8,"color":"#444444"},
"encoding":{"x":{"field":"T","type":"quantitative","scale":{"type":"log","domain":[0.01,10]},"axis":null},"y":{"field":"v","type":"quantitative","scale":{"type":"log","domain":[0.1,1000]},"axis":null},"text":{"field":"t"}}},
{"data":{"name":"tdis"},"mark":{"type":"text","angle":45,"align":"right","font":"Noto Sans CJK JP","fontSize":8,"color":"#444444"},
"encoding":{"x":{"field":"T","type":"quantitative","scale":{"type":"log","domain":[0.01,10]},"axis":null},"y":{"field":"v","type":"quantitative","scale":{"type":"log","domain":[0.1,1000]},"axis":null},"text":{"field":"t"}}},
{"data":{"name":"ew"},"mark":{"type":"line","clip":true,"color":"#ff0000","strokeWidth":1.25},
"encoding":{"x":{"field":"T","type":"quantitative","scale":{"type":"log","domain":[0.01,10]},"axis":{"orient":"bottom","values":[0.03,0.04,0.06,0.07,0.08,0.09,0.3,0.4,0.6,0.7,0.8,0.9,3,4,6,7,8,9],"grid":false,"labels":false,"ticks":true,"tickSize":-5,"tickColor":"#444444","tickWidth":1,"domain":false,"title":null,"zindex":1}},
"y":{"field":"r","type":"quantitative","scale":{"type":"log","domain":[0.1,1000]},"axis":{"orient":"left","values":[0.3,0.4,0.6,0.7,0.8,0.9,3,4,6,7,8,9,30,40,60,70,80,90,300,400,600,700,800,900],"grid":false,"labels":false,"ticks":true,"tickSize":-5,"tickColor":"#444444","tickWidth":1,"domain":false,"title":null,"zindex":1}},
"detail":{"field":"s","type":"nominal"}}},
{"data":{"name":"ew"},"mark":{"type":"line","clip":true,"color":"#000000","strokeWidth":1.25,"strokeDash":[4,2]},
"encoding":{"x":{"field":"T","type":"quantitative","scale":{"type":"log","domain":[0.01,10]},"axis":{"orient":"top","values":[0.03,0.04,0.06,0.07,0.08,0.09,0.3,0.4,0.6,0.7,0.8,0.9,3,4,6,7,8,9],"grid":false,"labels":false,"ticks":true,"tickSize":-5,"tickColor":"#444444","tickWidth":1,"domain":false,"title":null,"zindex":1}},
"y":{"field":"k","type":"quantitative","scale":{"type":"log","domain":[0.1,1000]},"axis":{"orient":"right","values":[0.3,0.4,0.6,0.7,0.8,0.9,3,4,6,7,8,9,30,40,60,70,80,90,300,400,600,700,800,900],"grid":false,"labels":false,"ticks":true,"tickSize":-5,"tickColor":"#444444","tickWidth":1,"domain":false,"title":null,"zindex":1}},
"detail":{"field":"s","type":"nominal"}}}
],
"resolve":{"axis":{"x":"independent","y":"independent"}}},
{"width":334,"height":450,
"title":{"text":"UD成分","orient":"bottom","offset":14,"dx":19,"font":"Noto Sans CJK JP","fontSize":18.5,"fontWeight":"normal","color":"#000000"},
"layer":[
{"data":{"name":"diag"},"mark":{"type":"line","clip":true,"color":"#8c8c8c","strokeWidth":0.9},
"encoding":{"x":{"field":"T","type":"quantitative","scale":{"type":"log","domain":[0.01,10]},"axis":{"orient":"bottom","values":[0.01,0.02,0.05,0.1,0.2,0.5,1,2,5,10],"format":"~g","grid":false,"ticks":false,"domain":false,"labelFont":"Liberation Serif","labelFontSize":10.5,"labelColor":"#333333","labelPadding":4,"labelFlush":false,"labelOverlap":false,"title":"周 期(s)","titleFont":"Noto Sans CJK JP","titleFontSize":8.5,"titleFontWeight":"normal","titleColor":"#444444","titlePadding":9,"zindex":1}},
"y":{"field":"v","type":"quantitative","scale":{"type":"log","domain":[0.1,1000]},"axis":{"orient":"left","values":[0.1,0.2,0.5,1,2,5,10,20,50,100,200,500,1000],"format":"~g","grid":false,"ticks":false,"domain":false,"labelFont":"Liberation Serif","labelFontSize":10.5,"labelColor":"#333333","labelPadding":5,"labelFlush":false,"labelOverlap":false,"title":["速","度","(cm/s)"],"titleFont":"Noto Sans CJK JP","titleFontSize":8.5,"titleFontWeight":"normal","titleColor":"#444444","titleAngle":0,"titleAlign":"center","titleBaseline":"top","titleX":-35,"titleY":204,"titleLineHeight":17.5,"zindex":1}},
"detail":{"field":"id","type":"nominal"}}},
{"data":{"name":"dlab"},"mark":{"type":"text","angle":45,"font":"Liberation Serif","fontSize":10.5,"color":"#333333"},
"encoding":{"x":{"field":"T","type":"quantitative","scale":{"type":"log","domain":[0.01,10]},"axis":{"orient":"bottom","values":[0.02,0.05,0.1,0.2,0.5,1,2,5],"grid":true,"gridColor":"#a3a3a3","gridWidth":1.4,"labels":false,"ticks":false,"domain":false,"title":null,"zindex":0}},
"y":{"field":"v","type":"quantitative","scale":{"type":"log","domain":[0.1,1000]},"axis":{"orient":"left","values":[0.2,0.5,1,2,5,10,20,50,100,200,500],"grid":true,"gridColor":"#a3a3a3","gridWidth":1.4,"labels":false,"ticks":false,"domain":false,"title":null,"zindex":0}},
"text":{"field":"t"}}},
{"data":{"name":"alab"},"mark":{"type":"text","angle":-45,"font":"Liberation Serif","fontSize":10.5,"color":"#333333"},
"encoding":{"x":{"field":"T","type":"quantitative","scale":{"type":"log","domain":[0.01,10]},"axis":null},"y":{"field":"v","type":"quantitative","scale":{"type":"log","domain":[0.1,1000]},"axis":null},"text":{"field":"t"}}},
{"data":{"name":"hlab"},"mark":{"type":"text","align":"right","baseline":"bottom","dx":-2,"dy":-3,"font":"Liberation Serif","fontSize":9.5,"color":"#333333"},
"encoding":{"x":{"field":"T","type":"quantitative","scale":{"type":"log","domain":[0.01,10]},"axis":null},"y":{"field":"v","type":"quantitative","scale":{"type":"log","domain":[0.1,1000]},"axis":null},"text":{"field":"t"}}},
{"data":{"name":"tacc"},"mark":{"type":"text","angle":-45,"font":"Noto Sans CJK JP","fontSize":8,"color":"#444444"},
"encoding":{"x":{"field":"T","type":"quantitative","scale":{"type":"log","domain":[0.01,10]},"axis":null},"y":{"field":"v","type":"quantitative","scale":{"type":"log","domain":[0.1,1000]},"axis":null},"text":{"field":"t"}}},
{"data":{"name":"tdis"},"mark":{"type":"text","angle":45,"align":"right","font":"Noto Sans CJK JP","fontSize":8,"color":"#444444"},
"encoding":{"x":{"field":"T","type":"quantitative","scale":{"type":"log","domain":[0.01,10]},"axis":null},"y":{"field":"v","type":"quantitative","scale":{"type":"log","domain":[0.1,1000]},"axis":null},"text":{"field":"t"}}},
{"data":{"name":"ud"},"mark":{"type":"line","clip":true,"color":"#ff0000","strokeWidth":1.25},
"encoding":{"x":{"field":"T","type":"quantitative","scale":{"type":"log","domain":[0.01,10]},"axis":{"orient":"bottom","values":[0.03,0.04,0.06,0.07,0.08,0.09,0.3,0.4,0.6,0.7,0.8,0.9,3,4,6,7,8,9],"grid":false,"labels":false,"ticks":true,"tickSize":-5,"tickColor":"#444444","tickWidth":1,"domain":false,"title":null,"zindex":1}},
"y":{"field":"r","type":"quantitative","scale":{"type":"log","domain":[0.1,1000]},"axis":{"orient":"left","values":[0.3,0.4,0.6,0.7,0.8,0.9,3,4,6,7,8,9,30,40,60,70,80,90,300,400,600,700,800,900],"grid":false,"labels":false,"ticks":true,"tickSize":-5,"tickColor":"#444444","tickWidth":1,"domain":false,"title":null,"zindex":1}},
"detail":{"field":"s","type":"nominal"}}},
{"data":{"name":"ud"},"mark":{"type":"line","clip":true,"color":"#000000","strokeWidth":1.25,"strokeDash":[4,2]},
"encoding":{"x":{"field":"T","type":"quantitative","scale":{"type":"log","domain":[0.01,10]},"axis":{"orient":"top","values":[0.03,0.04,0.06,0.07,0.08,0.09,0.3,0.4,0.6,0.7,0.8,0.9,3,4,6,7,8,9],"grid":false,"labels":false,"ticks":true,"tickSize":-5,"tickColor":"#444444","tickWidth":1,"domain":false,"title":null,"zindex":1}},
"y":{"field":"k","type":"quantitative","scale":{"type":"log","domain":[0.1,1000]},"axis":{"orient":"right","values":[0.3,0.4,0.6,0.7,0.8,0.9,3,4,6,7,8,9,30,40,60,70,80,90,300,400,600,700,800,900],"grid":false,"labels":false,"ticks":true,"tickSize":-5,"tickColor":"#444444","tickWidth":1,"domain":false,"title":null,"zindex":1}},
"detail":{"field":"s","type":"nominal"}}}
],
"resolve":{"axis":{"x":"independent","y":"independent"}}}
]}
]}
]}
]
}
